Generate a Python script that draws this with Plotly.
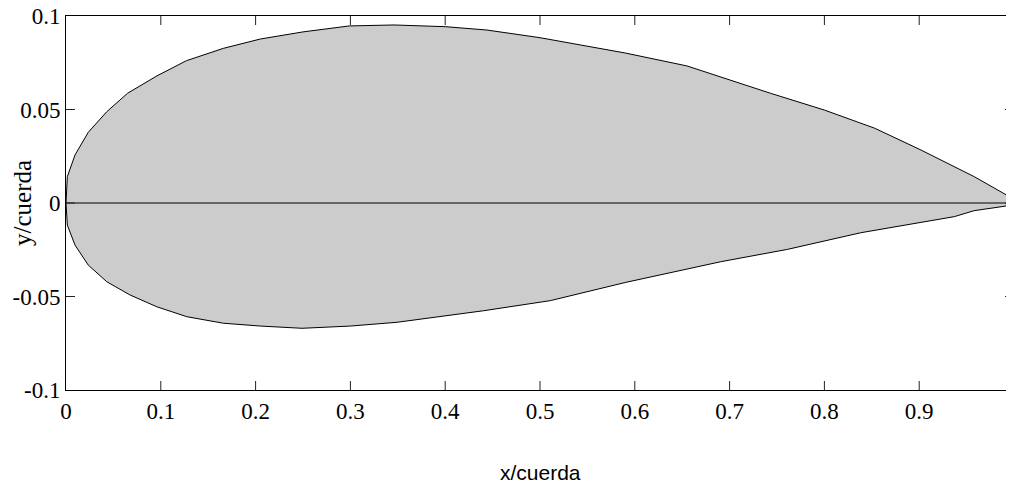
import plotly.graph_objects as go

# Upper surface (x/c, y/c)
upper_x = [0, 0.0014, 0.0095, 0.0235, 0.043, 0.065, 0.096, 0.127, 0.166, 0.205, 0.25,
           0.299, 0.346, 0.400, 0.444, 0.500, 0.590, 0.655, 0.743, 0.800, 0.853, 0.902,
           0.958, 1.0]
upper_y = [0, 0.0141, 0.0257, 0.0378, 0.0488, 0.0587, 0.068, 0.0761, 0.0827, 0.0877, 0.0915,
           0.0947, 0.0952, 0.0943, 0.0925, 0.0884, 0.0802, 0.0733, 0.0587, 0.0497, 0.040, 0.0283,
           0.0141, 0.002]

# Lower surface (x/c, y/c)
lower_x = [0, 0.0014, 0.0095, 0.0235, 0.043, 0.0676, 0.0958, 0.1274, 0.166, 0.205, 0.249,
           0.300, 0.349, 0.4407, 0.511, 0.590, 0.6906, 0.761, 0.8384, 0.937, 0.958, 1.0]
lower_y = [0, -0.0118, -0.0225, -0.0332, -0.0421, -0.0492, -0.0555, -0.0608, -0.0643, -0.0658,
           -0.067, -0.0658, -0.0638, -0.0576, -0.0522, -0.0425, -0.0314, -0.0248, -0.0159,
           -0.0073, -0.0041, -0.001]

chord_x = [0, 1]
chord_y = [0, 0]

x_ticks = [0, 0.1, 0.2, 0.3, 0.4, 0.5, 0.6, 0.7, 0.8, 0.9, 1]
x_tick_labels = ["0", "0.1", "0.2", "0.3", "0.4", "0.5", "0.6", "0.7", "0.8", "0.9", "1"]
y_ticks = [-0.1, -0.05, 0, 0.05, 0.1]
y_tick_labels = ["-0.1", "-0.05", "0", "0.05", "0.1"]

poly_x = upper_x + lower_x[::-1]
poly_y = upper_y + lower_y[::-1]

fig = go.Figure()
fig.add_trace(go.Scatter(x=poly_x, y=poly_y, mode="lines", fill="toself",
                         fillcolor="#cccccc", line=dict(color="black", width=1),
                         hoverinfo="skip", showlegend=False))
fig.add_trace(go.Scatter(x=chord_x, y=chord_y, mode="lines",
                         line=dict(color="black", width=1), showlegend=False))

serif = "Liberation Serif"
axis_common = dict(ticks="", showline=True, linecolor="black", linewidth=1, mirror=True,
                   showgrid=False, zeroline=False, automargin=False,
                   ticklabeloverflow="allow",
                   tickfont=dict(family=serif, size=23, color="black"))

# Plot box size in px (used for the inward tick marks' length in paper units)
plot_w, plot_h = 948, 374
tick_len = 9
tick_line = dict(color="#222222", width=1)
shapes = []
for xv in x_ticks[1:-1]:
    shapes.append(dict(type="line", xref="x", yref="paper", x0=xv, x1=xv,
                       y0=0, y1=tick_len / plot_h, line=tick_line, layer="above"))
    shapes.append(dict(type="line", xref="x", yref="paper", x0=xv, x1=xv,
                       y0=1, y1=1 - tick_len / plot_h, line=tick_line, layer="above"))
for yv in y_ticks[1:-1]:
    shapes.append(dict(type="line", xref="paper", yref="y", x0=0, x1=tick_len / plot_w,
                       y0=yv, y1=yv, line=tick_line, layer="above"))
    shapes.append(dict(type="line", xref="paper", yref="y", x0=1, x1=1 - tick_len / plot_w,
                       y0=yv, y1=yv, line=tick_line, layer="above"))

# The page body adds an 8px offset; margins compensate so the plot box sits
# at x 66..1014, y 16..390 in the window.
fig.update_layout(
    width=1014, height=485,
    margin=dict(l=58, r=8, t=8, b=103, autoexpand=False),
    paper_bgcolor="white", plot_bgcolor="white",
    showlegend=False,
    xaxis=dict(range=[0, 1], tickvals=x_ticks, ticktext=x_tick_labels, **axis_common),
    yaxis=dict(range=[-0.1, 0.1], tickvals=y_ticks, ticktext=y_tick_labels, **axis_common),
    shapes=shapes,
    annotations=[
        dict(text="x/cuerda", xref="paper", yref="paper", x=0.5, y=0,
             xanchor="center", yanchor="middle", yshift=-82, showarrow=False,
             font=dict(family="Liberation Sans", size=21, color="black")),
        dict(text="y/cuerda", xref="paper", yref="paper", x=0, y=0.5,
             xanchor="center", yanchor="middle", xshift=-44, textangle=-90, showarrow=False,
             font=dict(family=serif, size=25, color="black")),
    ],
)

fig.write_html("out.html")
